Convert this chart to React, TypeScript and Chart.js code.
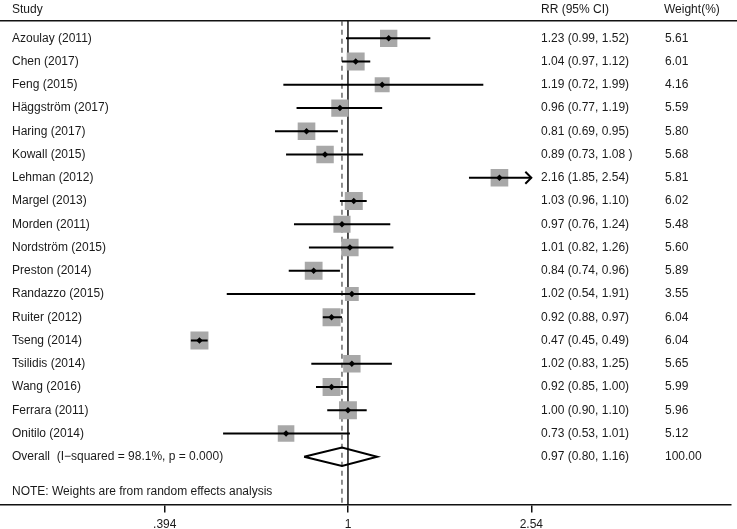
import React, { useEffect, useRef } from "react";
import { Chart, registerables } from "chart.js";

Chart.register(...registerables);

const studies = [
  "Azoulay (2011)", "Chen (2017)", "Feng (2015)", "Häggström (2017)", "Haring (2017)",
  "Kowall (2015)", "Lehman (2012)", "Margel (2013)", "Morden (2011)", "Nordström (2015)",
  "Preston (2014)", "Randazzo (2015)", "Ruiter (2012)", "Tseng (2014)", "Tsilidis (2014)",
  "Wang (2016)", "Ferrara (2011)", "Onitilo (2014)",
];
const rr = [1.23, 1.04, 1.19, 0.96, 0.81, 0.89, 2.16, 1.03, 0.97, 1.01, 0.84, 1.02, 0.92, 0.47, 1.02, 0.92, 1.0, 0.73];
const lo = [0.99, 0.97, 0.72, 0.77, 0.69, 0.73, 1.85, 0.96, 0.76, 0.82, 0.74, 0.54, 0.88, 0.45, 0.83, 0.85, 0.9, 0.53];
const hi = [1.52, 1.12, 1.99, 1.19, 0.95, 1.08, 2.54, 1.1, 1.24, 1.26, 0.96, 1.91, 0.97, 0.49, 1.25, 1.0, 1.1, 1.01];
const weights = [5.61, 6.01, 4.16, 5.59, 5.8, 5.68, 5.81, 6.02, 5.48, 5.6, 5.89, 3.55, 6.04, 6.04, 5.65, 5.99, 5.96, 5.12];
const ciLabels = [
  "1.23 (0.99, 1.52)", "1.04 (0.97, 1.12)", "1.19 (0.72, 1.99)", "0.96 (0.77, 1.19)", "0.81 (0.69, 0.95)",
  "0.89 (0.73, 1.08 )", "2.16 (1.85, 2.54)", "1.03 (0.96, 1.10)", "0.97 (0.76, 1.24)", "1.01 (0.82, 1.26)",
  "0.84 (0.74, 0.96)", "1.02 (0.54, 1.91)", "0.92 (0.88, 0.97)", "0.47 (0.45, 0.49)", "1.02 (0.83, 1.25)",
  "0.92 (0.85, 1.00)", "1.00 (0.90, 1.10)", "0.73 (0.53, 1.01)",
];
const weightLabels = ["5.61", "6.01", "4.16", "5.59", "5.80", "5.68", "5.81", "6.02", "5.48", "5.60", "5.89", "3.55", "6.04", "6.04", "5.65", "5.99", "5.96", "5.12"];

const overallLabel = "Overall  (I\u2212squared = 98.1%, p = 0.000)";
const overallRR = 0.97;
const overallLo = 0.8;
const overallHi = 1.16;
const overallCiLabel = "0.97 (0.80, 1.16)";
const overallWeightLabel = "100.00";

const headerLabels = ["Study", "RR (95% CI)", "Weight(%)"];
const noteLabel = "NOTE: Weights are from random effects analysis";

const tickValues = [0.394, 1, 2.54];
const tickLabels = [".394", "1", "2.54"];

const FONT = "'Liberation Sans', Arial, sans-serif";
const OVERALL_ROW = studies.length + 1;
const NOTE_ROW = OVERALL_ROW + 1.5;
const HEADER_ROW = -0.22;
const HEADER_LINE_ROW = 0.243;
const BOX_SIDE_PER_SQRT_W = 18 / Math.sqrt(6.04);

const forestPlugin = {
  id: "forest",
  beforeDatasetsDraw(chart: any) {
    const { ctx, chartArea, scales } = chart;
    const x = scales.x;
    const y = scales.y;
    const top = y.getPixelForValue(HEADER_LINE_ROW);
    ctx.save();
    ctx.strokeStyle = "#111";
    ctx.lineWidth = 1.5;
    ctx.beginPath();
    ctx.moveTo(0, top);
    ctx.lineTo(chart.width, top);
    ctx.stroke();
    const x1 = x.getPixelForValue(1);
    ctx.lineWidth = 1.5;
    ctx.beginPath();
    ctx.moveTo(x1, top);
    ctx.lineTo(x1, chartArea.bottom);
    ctx.stroke();
    const xo = x.getPixelForValue(overallRR);
    ctx.strokeStyle = "#444";
    ctx.lineWidth = 1.2;
    ctx.setLineDash([5, 4]);
    ctx.beginPath();
    ctx.moveTo(xo, top);
    ctx.lineTo(xo, chartArea.bottom);
    ctx.stroke();
    ctx.restore();
  },
  afterDatasetsDraw(chart: any) {
    const { ctx, scales } = chart;
    const x = scales.x;
    const y = scales.y;
    const maxTick = tickValues[tickValues.length - 1];
    ctx.save();
    ctx.strokeStyle = "#000";
    ctx.lineWidth = 2;
    hi.forEach((h, i) => {
      if (h >= maxTick) {
        const px = x.getPixelForValue(h);
        const py = y.getPixelForValue(i + 1);
        ctx.beginPath();
        ctx.moveTo(px - 6, py - 6);
        ctx.lineTo(px, py);
        ctx.lineTo(px - 6, py + 6);
        ctx.stroke();
      }
    });
    ctx.fillStyle = "#1a1a1a";
    ctx.font = `12px ${FONT}`;
    ctx.textBaseline = "middle";
    ctx.textAlign = "left";
    const colName = 12;
    const colCI = 541;
    const colW = 665;
    const hy = y.getPixelForValue(HEADER_ROW);
    ctx.fillText(headerLabels[0], colName, hy);
    ctx.fillText(headerLabels[1], colCI, hy);
    ctx.fillText(headerLabels[2], colW - 1, hy);
    studies.forEach((s, i) => {
      const py = y.getPixelForValue(i + 1);
      ctx.fillText(s, colName, py);
      ctx.fillText(ciLabels[i], colCI, py);
      ctx.fillText(weightLabels[i], colW, py);
    });
    const oy = y.getPixelForValue(OVERALL_ROW);
    ctx.fillText(overallLabel, colName, oy);
    ctx.fillText(overallCiLabel, colCI, oy);
    ctx.fillText(overallWeightLabel, colW, oy);
    ctx.fillText(noteLabel, colName, y.getPixelForValue(NOTE_ROW));
    ctx.restore();
  },
};

export default function App() {
  const ref = useRef<HTMLCanvasElement | null>(null);

  useEffect(() => {
    if (!ref.current) return;
    const ciSets = studies.map((s, i) => ({
      type: "line" as const,
      label: s,
      data: [
        { x: lo[i], y: i + 1 },
        { x: hi[i], y: i + 1 },
      ],
      borderColor: "#000",
      borderWidth: 2,
      pointRadius: 0,
      fill: false,
      order: 2,
    }));
    const chart = new Chart(ref.current, {
      type: "scatter",
      data: {
        datasets: [
          {
            type: "scatter",
            label: "weight boxes",
            data: rr.map((v, i) => ({ x: v, y: i + 1 })),
            pointStyle: "rect",
            pointRadius: weights.map((w) => (BOX_SIDE_PER_SQRT_W * Math.sqrt(w)) / Math.SQRT2),
            backgroundColor: "#a8a8a8",
            borderWidth: 0,
            order: 3,
          } as any,
          ...ciSets,
          {
            type: "scatter",
            label: "estimates",
            data: rr.map((v, i) => ({ x: v, y: i + 1 })),
            pointStyle: "rectRot",
            pointRadius: 3.2,
            backgroundColor: "#000",
            borderWidth: 0,
            order: 1,
          } as any,
          {
            type: "line",
            label: "overall",
            data: [
              { x: overallLo, y: OVERALL_ROW },
              { x: overallRR, y: OVERALL_ROW - 0.4 },
              { x: overallHi, y: OVERALL_ROW },
              { x: overallRR, y: OVERALL_ROW + 0.4 },
              { x: overallLo, y: OVERALL_ROW },
            ],
            borderColor: "#000",
            borderWidth: 2,
            pointRadius: 0,
            fill: false,
            tension: 0,
            order: 0,
          } as any,
        ],
      },
      options: {
        responsive: false,
        animation: false,
        devicePixelRatio: 1,
        layout: { autoPadding: false, padding: { left: 0, right: 6, top: 0, bottom: 0 } },
        plugins: { legend: { display: false }, tooltip: { enabled: false } },
        scales: {
          x: {
            type: "logarithmic",
            position: "bottom",
            min: 0.1705,
            max: 7.01,
            afterBuildTicks: (axis: any) => {
              axis.ticks = tickValues.map((v) => ({ value: v }));
            },
            afterFit: (axis: any) => {
              axis.paddingLeft = 0;
              axis.paddingRight = 0;
              axis.height = 24.5;
            },
            ticks: {
              callback: (_v: any, i: number) => tickLabels[i],
              color: "#1a1a1a",
              font: { family: FONT, size: 12 },
              maxRotation: 0,
              autoSkip: false,
              padding: 5,
            },
            grid: { drawOnChartArea: false, drawTicks: true, tickLength: 8, color: "#111", lineWidth: 1.5 },
            border: { display: true, color: "#111", width: 1.5 },
          },
          y: {
            type: "linear",
            reverse: true,
            min: -0.648,
            max: 21.056,
            display: false,
          },
        },
      } as any,
      plugins: [forestPlugin],
    });
    return () => chart.destroy();
  }, []);

  return (
    <div style={{ position: "absolute", left: 0, top: 0, width: 737, height: 529, background: "#fff" }}>
      <canvas ref={ref} width={737} height={529} style={{ display: "block" }} />
    </div>
  );
}
